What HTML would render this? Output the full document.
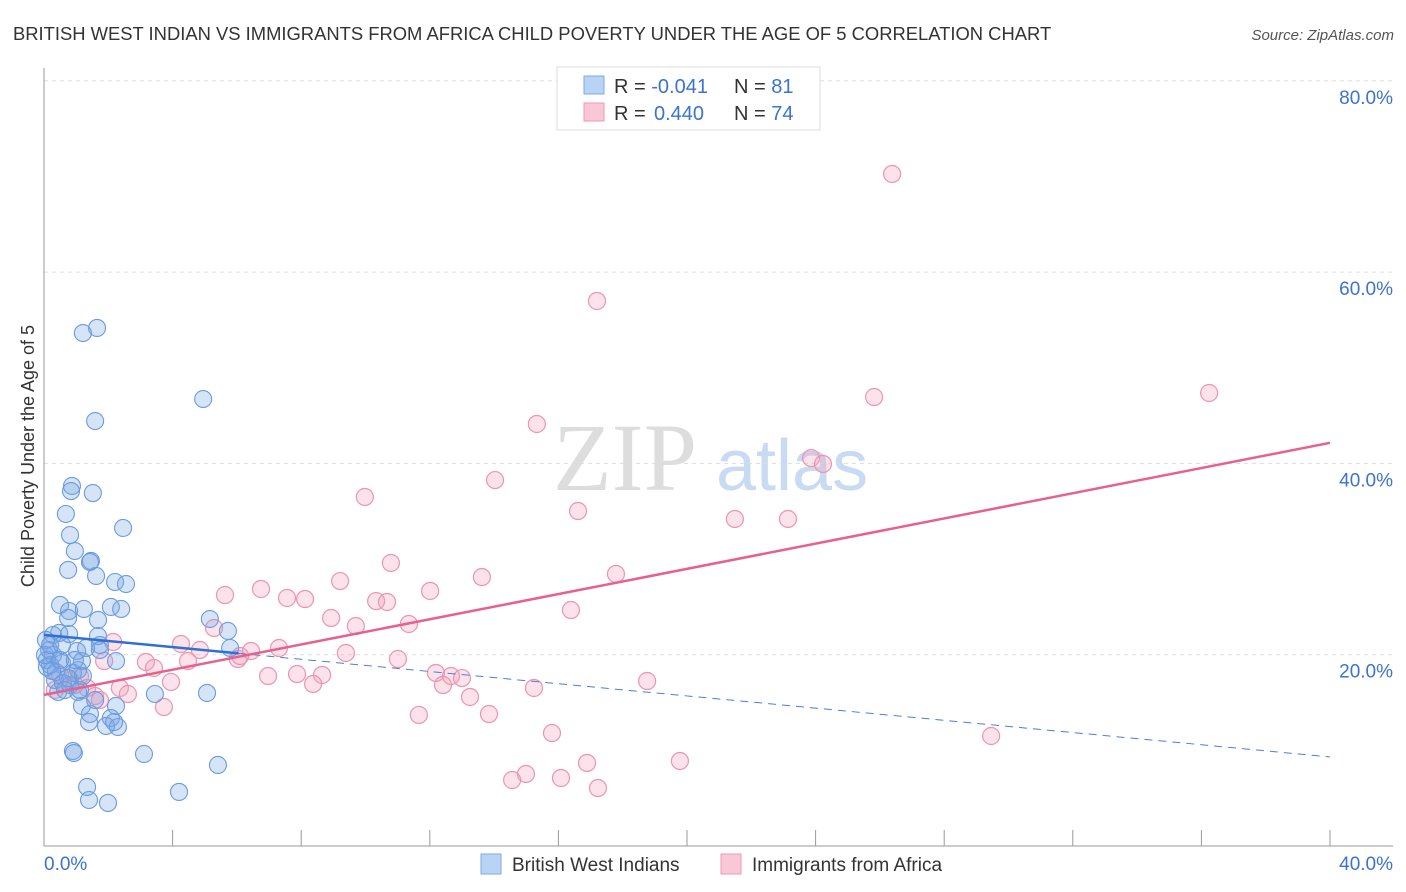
<!DOCTYPE html>
<html><head><meta charset="utf-8"><style>
body{margin:0;background:#fff;font-family:"Liberation Sans",sans-serif;}
svg{display:block}
</style></head><body>
<svg id="chart" width="1406" height="892">
<text x="13" y="40" font-size="18.4" fill="#333">BRITISH WEST INDIAN VS IMMIGRANTS FROM AFRICA CHILD POVERTY UNDER THE AGE OF 5 CORRELATION CHART</text>
<text x="1394" y="40" font-size="15" fill="#555" font-style="italic" text-anchor="end">Source: ZipAtlas.com</text>
<g>
<text x="553" y="490" font-size="96" font-family="Liberation Serif,serif" fill="#ddd">ZIP</text>
<text x="716" y="490" font-size="72" fill="#c9daf3">atlas</text>
</g>
<g id="grid"></g>
<g id="axes"></g>
<g id="marks"></g>
<g id="lines"></g>
<text x="34" y="456" font-size="18" fill="#333" text-anchor="middle" transform="rotate(-90 34 456)">Child Poverty Under the Age of 5</text>
<g>
<rect x="557" y="67" width="263" height="63" fill="#fff" stroke="#ddd"/>
<rect x="584" y="76" width="20" height="18" fill="#b9d3f5" stroke="#7fa9e6"/>
<rect x="584" y="103" width="20" height="18" fill="#f9c7d6" stroke="#ee9ab4"/>
<text x="614" y="93" font-size="20" fill="#333">R = <tspan fill="#3b73d1">-0.041</tspan></text>
<text x="734" y="93" font-size="20" fill="#333">N = <tspan fill="#3b73d1">81</tspan></text>
<text x="614" y="120" font-size="20" fill="#333">R = <tspan fill="#3b73d1" x="654">0.440</tspan></text>
<text x="734" y="120" font-size="20" fill="#333">N = <tspan fill="#3b73d1">74</tspan></text>
</g>
<g>
<rect x="481" y="854" width="20" height="20" fill="#b9d3f5" stroke="#7fa9e6"/>
<text x="512" y="871" font-size="19" fill="#333">British West Indians</text>
<rect x="721" y="854" width="20" height="20" fill="#f9c7d6" stroke="#ee9ab4"/>
<text x="752" y="871" font-size="19" fill="#333">Immigrants from Africa</text>
</g>
</svg>
<script>
const blueX=[1.65,1.21,4.95,1.59,0.87,0.84,1.52,0.68,2.46,0.81,0.96,1.46,1.43,0.75,1.62,2.21,2.55,0.50,2.08,2.40,0.78,1.24,0.75,1.68,5.16,0.47,0.28,0.78,1.68,5.72,0.06,1.74,1.03,0.28,0.09,1.18,2.24,0.56,1.06,0.09,0.90,1.21,0.34,0.59,0.81,1.06,3.45,5.07,1.18,2.24,1.43,1.40,2.08,1.93,2.30,2.18,5.79,0.16,0.19,0.37,0.90,0.93,3.11,5.41,1.34,1.40,1.99,4.20,0.75,0.44,1.12,0.25,0.50,0.03,1.31,0.19,1.59,0.65,0.96,1.74,0.56];
const blueY=[54.16,53.63,46.73,44.43,37.64,37.11,36.90,34.71,33.25,32.51,30.84,29.80,29.69,28.86,28.23,27.60,27.39,25.20,24.99,24.78,24.57,24.78,23.84,23.63,23.73,22.27,22.06,22.16,21.95,22.48,21.54,21.01,20.39,19.97,19.45,19.34,19.34,19.13,18.40,18.71,18.09,17.77,17.35,17.04,16.83,16.10,15.89,16.00,14.64,14.64,13.80,12.96,13.38,12.55,12.44,12.96,20.70,20.49,18.92,18.19,9.93,9.72,9.62,8.47,6.17,4.81,4.50,5.65,17.56,16.10,16.31,18.30,19.45,19.97,20.70,21.01,15.26,16.31,19.45,20.49,21.01];
const pinkX=[26.38,17.20,36.24,25.82,15.33,23.86,24.23,9.98,14.03,16.61,21.49,23.14,10.79,17.79,13.62,9.21,6.75,5.63,7.56,8.12,12.01,10.33,10.67,16.39,8.93,11.35,9.70,5.29,4.26,2.15,4.85,7.31,6.44,9.39,6.03,3.17,4.48,3.42,1.87,11.01,12.19,12.66,13.00,7.87,6.97,8.65,8.37,3.95,12.41,13.25,15.24,18.76,2.36,2.61,1.34,1.59,3.73,11.66,13.84,15.80,29.46,19.78,16.89,14.99,14.56,16.08,17.23,6.10,0.50,0.81,1.12,0.34,0.96,1.74];
const pinkY=[70.26,56.98,47.36,46.94,44.12,40.56,39.94,36.49,38.26,35.02,34.19,34.19,29.59,28.44,28.12,27.70,26.87,26.24,25.93,25.82,26.66,25.61,25.51,24.67,23.84,23.21,23.00,22.79,21.12,21.33,20.49,20.70,20.39,20.18,19.55,19.24,19.34,18.61,19.34,19.55,18.09,17.77,17.56,17.98,17.77,17.88,16.94,17.15,16.83,15.58,16.52,17.25,16.52,15.89,16.52,15.68,14.53,13.70,13.80,11.81,11.50,8.89,8.68,7.53,6.90,7.11,6.06,19.86,17.88,17.35,17.77,16.31,16.83,15.26];
const yTicks=[20,40,60,80];
const yTickLabels=["20.0%","40.0%","60.0%","80.0%"];
const xTickLabels=["0.0%","40.0%"];
const blueTrend=[22.07,9.31];
const pinkTrend=[15.8,42.15];
const blueSolidEnd=6.05;

const NS="http://www.w3.org/2000/svg";
const X0=44,X1=1330,Y0=846,PPY=9.565;
const sx=v=>X0+v/40*(X1-X0);
const sy=v=>Y0-v*PPY;
function mk(tag,attrs,parent){const e=document.createElementNS(NS,tag);for(const k in attrs)e.setAttribute(k,attrs[k]);document.getElementById(parent).appendChild(e);return e;}

yTicks.forEach((t,i)=>{
  const l=mk('line',{x1:X0,x2:1393,y1:sy(t),y2:sy(t),stroke:'#ddd','stroke-dasharray':'4,4'},'grid');
  
  
  const tx=mk('text',{x:1393,y:sy(t)+23,'font-size':19,fill:'#3b73d1','text-anchor':'end'},'axes');
  tx.textContent=yTickLabels[i];
  
  
});
let ax=mk('line',{x1:X0,x2:X0,y1:68,y2:Y0,stroke:'#999'},'axes');


ax=mk('line',{x1:X0,x2:1393,y1:Y0,y2:Y0,stroke:'#999'},'axes');


for(let i=0;i<=10;i++){
  const t=mk('line',{x1:sx(i*4),x2:sx(i*4),y1:Y0-16,y2:Y0,stroke:'#999'},'axes');
  
  
}
let xl=mk('text',{x:X0,y:870,'font-size':19,fill:'#3b73d1'},'axes');
xl.textContent=xTickLabels[0];


xl=mk('text',{x:1393,y:870,'font-size':19,fill:'#3b73d1','text-anchor':'end'},'axes');
xl.textContent=xTickLabels[1];



pinkX.forEach((x,i)=>{
  const c=mk('circle',{cx:sx(x),cy:sy(pinkY[i]),r:8.5,fill:'rgba(244,160,186,0.3)',stroke:'#ec95b0','stroke-width':1.2},'marks');
  
  
});
blueX.forEach((x,i)=>{
  const c=mk('circle',{cx:sx(x),cy:sy(blueY[i]),r:8.5,fill:'rgba(120,165,230,0.3)',stroke:'#6a9be0','stroke-width':1.1},'marks');
  
  
});
const by=x=>blueTrend[0]+(blueTrend[1]-blueTrend[0])*x/40;
let tl=mk('line',{x1:sx(0),y1:sy(blueTrend[0]),x2:sx(blueSolidEnd),y2:sy(by(blueSolidEnd)),stroke:'#2f6fd6','stroke-width':2.5},'lines');


tl=mk('line',{x1:sx(blueSolidEnd),y1:sy(by(blueSolidEnd)),x2:sx(40),y2:sy(blueTrend[1]),stroke:'#4a7fd4','stroke-width':1,'stroke-dasharray':'8,6'},'lines');


tl=mk('line',{x1:sx(0),y1:sy(pinkTrend[0]),x2:sx(40),y2:sy(pinkTrend[1]),stroke:'#e8608c','stroke-width':2.5},'lines');


</script>
</body></html>
